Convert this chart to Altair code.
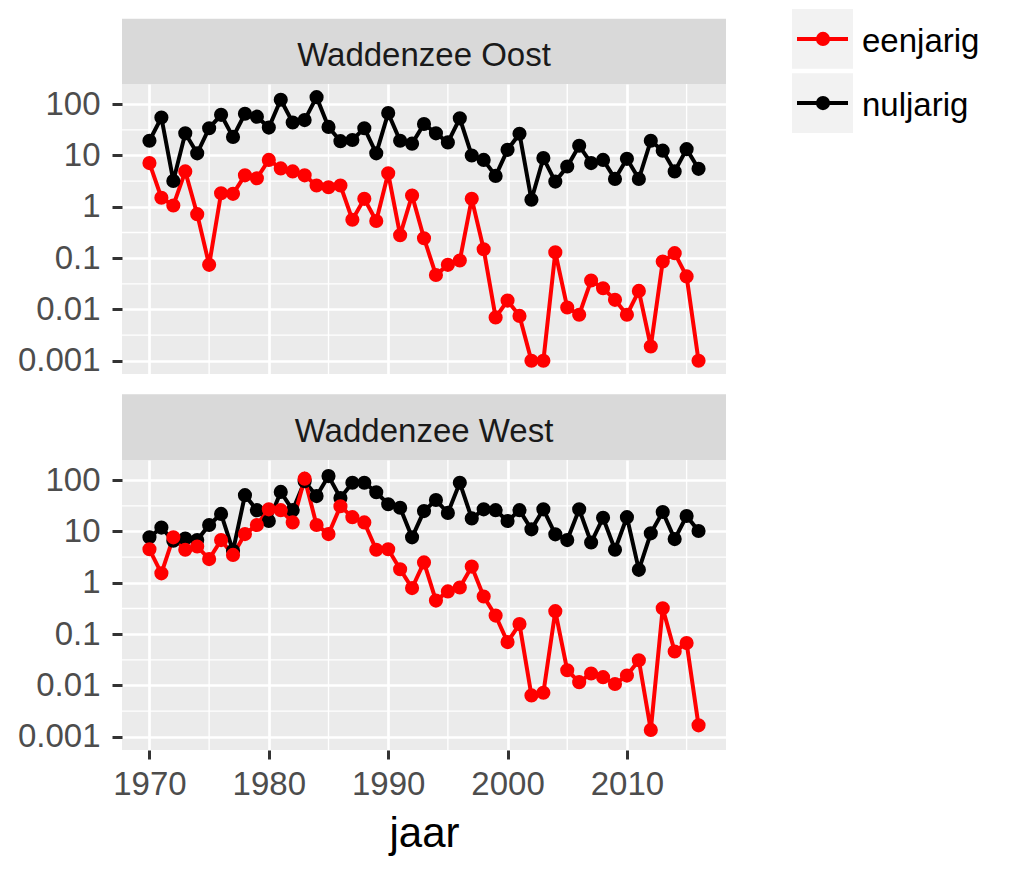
import altair as alt
import pandas as pd

FONT = "Liberation Sans"

years = list(range(1970, 2017))
panels = ["Waddenzee Oost", "Waddenzee West"]
series_names = ["eenjarig", "nuljarig"]
series_colors = ["#FF0000", "#000000"]

oost_eenjarig = [7.1, 1.5, 1.06, 4.9, 0.72, 0.074, 1.84, 1.79, 4.1, 3.6,
                 8.2, 5.6, 4.9, 4.1, 2.6, 2.4, 2.6, 0.56, 1.43, 0.53,
                 4.5, 0.28, 1.66, 0.244, 0.047, 0.074, 0.090, 1.43, 0.149, 0.0070,
                 0.0149, 0.0075, 0.001, 0.001, 0.130, 0.0109, 0.0079, 0.0366, 0.0259, 0.0154,
                 0.0079, 0.023, 0.0019, 0.086, 0.125, 0.044, 0.001]
oost_nuljarig = [19.4, 55, 3.2, 27, 11, 34, 62, 23, 65, 57,
                 35, 122, 44, 49, 137, 36, 19, 20, 34, 11,
                 67, 19.4, 17, 41, 27, 18, 53, 10, 8.2, 4.0,
                 12.9, 26.5, 1.37, 8.9, 3.1, 6.1, 15.5, 7.1, 8.2, 3.5,
                 8.6, 3.5, 19.4, 12.4, 4.9, 13.3, 5.5]
west_eenjarig = [4.5, 1.53, 7.7, 4.4, 5.1, 2.9, 6.8, 3.5, 8.9, 13.4,
                 27, 26, 15, 107, 13.4, 8.9, 31, 19, 15, 4.4,
                 4.5, 1.84, 0.79, 2.5, 0.45, 0.68, 0.81, 2.07, 0.54, 0.23,
                 0.070, 0.157, 0.0064, 0.0072, 0.28, 0.0198, 0.0116, 0.0171, 0.0145, 0.0107,
                 0.0156, 0.031, 0.00136, 0.32, 0.046, 0.067, 0.00167]
west_nuljarig = [7.7, 11.9, 6.6, 7.3, 6.8, 13.4, 22, 4.2, 51, 26,
                 16, 59, 26, 95, 49, 120, 45, 89, 89, 58,
                 34, 29, 7.7, 25, 41, 23, 89, 18, 27, 26,
                 16, 26, 11, 27, 8.8, 6.8, 27, 6.1, 18.5, 4.4,
                 19, 1.79, 9.2, 24, 7.1, 20, 10.2]

x_ticks = [1970, 1980, 1990, 2000, 2010]
x_minor = [1975, 1985, 1995, 2005, 2015]
y_ticks = [0.001, 0.01, 0.1, 1, 10, 100]
y_minor = [0.00316, 0.0316, 0.316, 3.16, 31.6]
x_domain = [1967.7, 2018.3]
y_domain = [0.000553, 247]

rows = []
for panel, groups in [
    (panels[0], [("nuljarig", oost_nuljarig), ("eenjarig", oost_eenjarig)]),
    (panels[1], [("nuljarig", west_nuljarig), ("eenjarig", west_eenjarig)]),
]:
    for name, vals in groups:
        for yr, v in zip(years, vals):
            rows.append({"gebied": panel, "leeftijd": name, "jaar": yr, "waarde": v})
df = pd.DataFrame(rows)

PW, PH = 604, 290
PT_SIZE = 200
LW = 4

color_enc = alt.Color("leeftijd:N", scale=alt.Scale(domain=series_names, range=series_colors), legend=None)
clear_view = alt.ViewBackground(fill="transparent", strokeWidth=0)


def panel(name, bottom):
    if bottom:
        xaxis = alt.Axis(values=x_ticks, format="d", grid=True, gridColor="white", gridWidth=2.7,
                         domain=False, tickColor="#333333", tickWidth=3, tickSize=9, labelPadding=9,
                         labelFontSize=33, labelColor="#4D4D4D", labelFont=FONT,
                         title="jaar", titleFontSize=42, titleFontWeight="normal", titleColor="#000000",
                         titleFont=FONT, titleY=96, titleBaseline="alphabetic")
    else:
        xaxis = alt.Axis(values=x_ticks, grid=True, gridColor="white", gridWidth=2.7,
                         domain=False, labels=False, ticks=False, title=None)
    yaxis = alt.Axis(values=y_ticks, format="~g", grid=True, gridColor="white", gridWidth=2.7,
                     domain=False, tickColor="#333333", tickWidth=3, tickSize=10, labelPadding=12,
                     labelFontSize=33, labelColor="#4D4D4D", labelFont=FONT, title=None)
    xs = alt.Scale(domain=x_domain, nice=False, zero=False)
    ys = alt.Scale(type="log", domain=y_domain, nice=False)

    vminor = alt.Chart(pd.DataFrame({"jaar": x_minor})).mark_rule(color="white", strokeWidth=1.35).encode(
        x=alt.X("jaar:Q", scale=xs, axis=xaxis))
    hminor = alt.Chart(pd.DataFrame({"waarde": y_minor})).mark_rule(color="white", strokeWidth=1.35).encode(
        y=alt.Y("waarde:Q", scale=ys, axis=yaxis))
    base = alt.Chart(df).transform_filter(alt.datum.gebied == name)
    lines = base.mark_line(strokeWidth=LW).encode(
        x=alt.X("jaar:Q", scale=xs, axis=xaxis),
        y=alt.Y("waarde:Q", scale=ys, axis=yaxis),
        color=color_enc)
    points = base.mark_circle(size=PT_SIZE, opacity=1).encode(
        x=alt.X("jaar:Q", scale=xs, axis=xaxis),
        y=alt.Y("waarde:Q", scale=ys, axis=yaxis),
        color=color_enc)
    return alt.layer(vminor, hminor, lines, points).properties(
        width=PW, height=PH, view=alt.ViewBackground(fill="#EBEBEB", strokeWidth=0))


def strip(name, h, top, baseline_y):
    d = alt.Data(values=[{"panel": name}])
    rect = alt.Chart(d).mark_rect(color="#D9D9D9").encode(
        x=alt.value(0), x2=alt.value(PW), y=alt.value(top), y2=alt.value(h))
    text = alt.Chart(d).mark_text(fontSize=33, color="#1A1A1A", font=FONT, baseline="alphabetic",
                                  align="center").encode(
        x=alt.value(PW / 2), y=alt.value(baseline_y), text="panel:N")
    return alt.layer(rect, text).properties(width=PW, height=h, view=clear_view)


left = alt.vconcat(
    strip(panels[0], 75, 9.7, 57),
    panel(panels[0], False),
    strip(panels[1], 86, 20.3, 67.6),
    panel(panels[1], True),
    spacing=0, bounds="flush")

leg_df = pd.DataFrame({"leeftijd": series_names})
leg_y = alt.Y("leeftijd:N", scale=alt.Scale(type="band", domain=series_names, paddingInner=0.067,
                                            paddingOuter=0), axis=None)
leg_base = alt.Chart(leg_df)
leg_rect = leg_base.mark_rect(color="#F2F2F2").encode(x=alt.value(0), x2=alt.value(61), y=leg_y)
leg_rule = leg_base.mark_rule(strokeWidth=LW).encode(x=alt.value(5), x2=alt.value(56), y=leg_y,
                                                     color=color_enc)
leg_point = leg_base.mark_circle(size=PT_SIZE, opacity=1).encode(x=alt.value(31), y=leg_y, color=color_enc)
leg_text = leg_base.mark_text(fontSize=33, font=FONT, color="#000000", align="left",
                              baseline="alphabetic", dy=13).encode(
    x=alt.value(70), y=leg_y, text="leeftijd:N")
legend = alt.layer(leg_rect, leg_rule, leg_point, leg_text).properties(
    width=200, height=124, view=clear_view)

chart = alt.hconcat(left, legend, spacing=65).properties(
    padding={"left": 9, "top": 0, "right": 5, "bottom": 5}
).configure_view(strokeWidth=0).configure(font=FONT)

chart.save("out.html", embed_options={"renderer": "svg", "actions": False})
